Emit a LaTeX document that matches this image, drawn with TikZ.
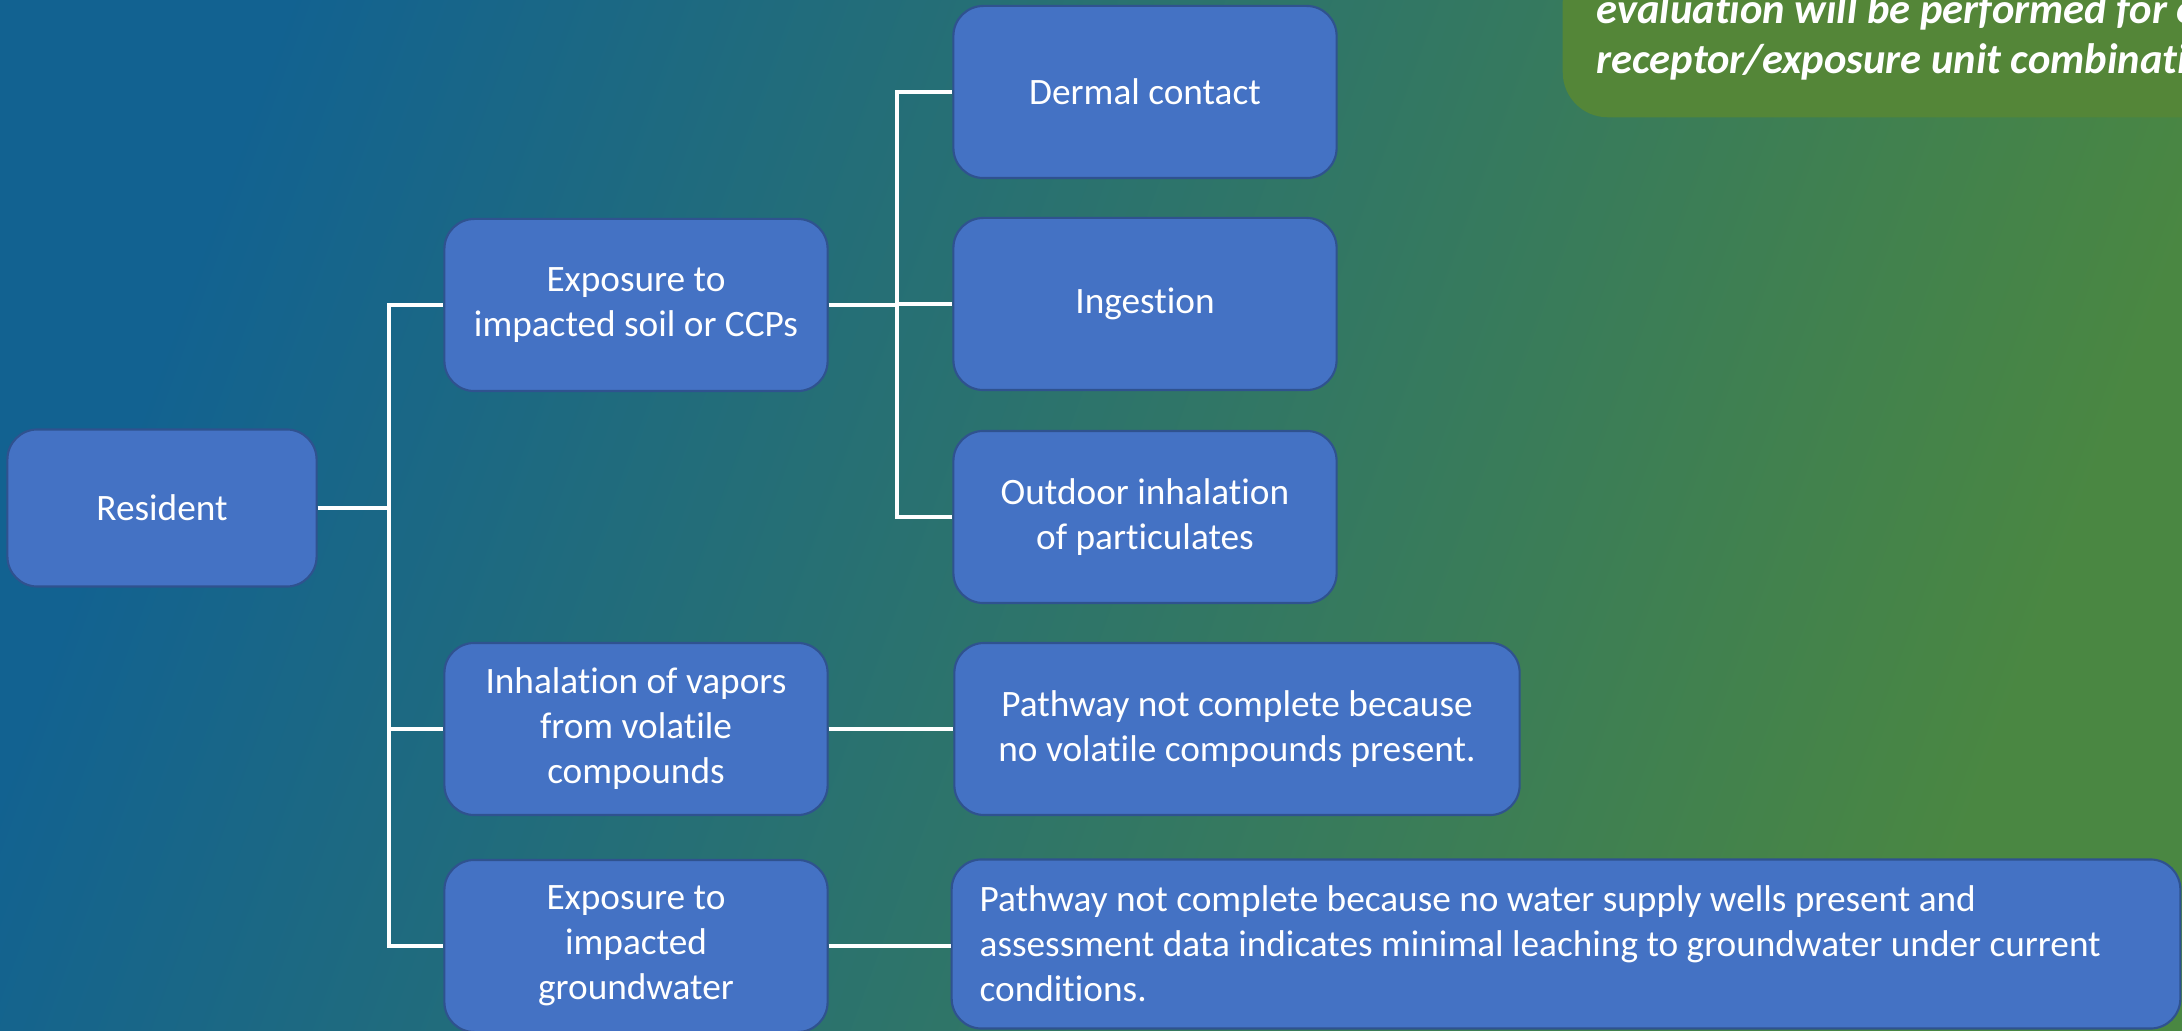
\documentclass[tikz,border=0pt]{standalone}
\usepackage{fontspec}
\setmainfont{Carlito}[Ligatures=NoCommon]
\usepackage{xcolor}
\usetikzlibrary{positioning,calc}
\definecolor{BgBlue}{RGB}{18,98,145}
\definecolor{BgGreen}{RGB}{74,135,66}
\definecolor{BoxBlue}{RGB}{68,114,196}
\definecolor{BoxEdge}{RGB}{47,82,143}
\definecolor{NoteGreen}{RGB}{84,134,56}

\begin{document}
\begin{tikzpicture}[
        x=0.01cm, y=-0.01cm,
        % --- STYLE CHUNG ---
        box/.style={
            rectangle,
            rounded corners=0.3cm,
            draw=BoxEdge,
            fill=BoxBlue,
            line width=0.6pt,
            text=white,
            align=center,
            minimum width=3.83cm,
            minimum height=1.72cm,
            inner sep=0pt,
            font=\fontsize{10.6}{12.8}\selectfont
        },
        % Hop ghi chu (xanh la)
        note/.style={
            rectangle,
            rounded corners=0.45cm,
            fill=NoteGreen,
            text=white,
            align=flush left,
            text width=10cm,
            inner xsep=0.34cm,
            inner ysep=0.37cm,
            font=\fontsize{12.1}{14.2}\selectfont\bfseries\itshape
        },
        % Duong noi (trang)
        link/.style={
            draw=white,
            line width=1.15pt
        }
    ]

        % --- NEN ---
        \useasboundingbox (0,0) rectangle (2182,1031);
        \clip (0,0) rectangle (2182,1031);
        \shade[left color=BgBlue, right color=BgGreen, shading angle=70] (0,0) rectangle (2182,1031);

        % --- HOP GHI CHU ---
        \node[note, anchor=south west] (note) at (1562,118) {evaluation will be performed for each\\receptor/exposure unit combination.};

        % --- CAC NUT ---
        \node[box, minimum width=3.09cm, minimum height=1.57cm] (res) at (162,508) {Resident};

        \node[box] (soil) at (636,305) {Exposure to\\impacted soil or CCPs};
        \node[box] (vap) at (636,729) {Inhalation of vapors\\from volatile\\compounds};
        \node[box] (gw) at (636,946) {Exposure to\\impacted\\groundwater};

        \node[box] (derm) at (1145,92) {Dermal contact};
        \node[box] (ing) at (1145,304) {Ingestion};
        \node[box] (outd) at (1145,517) {Outdoor inhalation\\of particulates};

        \node[box, minimum width=5.65cm] (vpath) at (1237,729) {Pathway not complete because\\no volatile compounds present.};
        \node[box, minimum height=1.69cm, align=flush left, text width=11.72cm, inner xsep=0.28cm] (gwpath) at (1566,944) {Pathway not complete because no water supply wells present and\\assessment data indicates minimal leaching to groundwater under current\\conditions.};

        % --- DUONG NOI ---
        \coordinate (busA) at (389,508);
        \coordinate (busB) at (897,304);

        \draw[link] (res.east) -- (res.east -| busA);
        \foreach \n in {soil, vap, gw} {
            \draw[link] (busA) |- (\n.west);
        }

        \draw[link] (soil.east) -- (soil.east -| busB);
        \foreach \n in {derm, ing, outd} {
            \draw[link] (busB) |- (\n.west);
        }

        \draw[link] (vap.east) -- (vpath.west);
        \draw[link] (gw.east) -- (gw.east -| gwpath.west);

    \end{tikzpicture}
\end{document}
